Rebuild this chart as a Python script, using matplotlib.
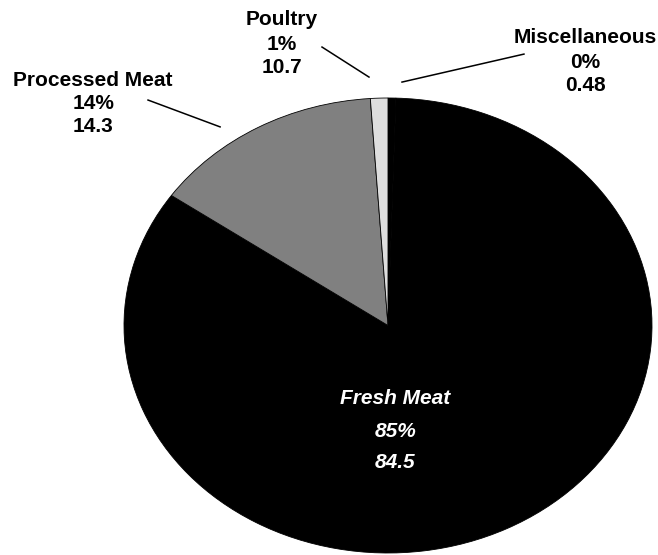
import matplotlib
matplotlib.use("Agg")
import matplotlib.pyplot as plt

plt.rcParams['font.family'] = ['Liberation Sans', 'DejaVu Sans']

# slices, clockwise from 12 o'clock
names = ["Miscellaneous", "Fresh Meat", "Processed Meat", "Poultry"]
shares = [0.48, 84.5, 14.3, 1.07]
pct_labels = ["0%", "85%", "14%", "1%"]
value_labels = ["0.48", "84.5", "14.3", "10.7"]
colors = ["#000000", "#000000", "#808080", "#dedede"]

fig = plt.figure(figsize=(6.58, 5.55), dpi=100)
ax = fig.add_axes([124 / 658, 2 / 555, 528 / 658, 455 / 555])

ax.pie(shares, colors=colors, startangle=90, counterclock=False,
       wedgeprops=dict(edgecolor="black", linewidth=0.6))
ax.set_aspect("auto")
ax.set_xlim(-1, 1)
ax.set_ylim(-1, 1)

fs = 15
# outside labels: (x centre, y of the three lines), leader line ends
outer = {
    "Processed Meat": ((-1.117, [1.079, 0.974, 0.873]), ((-0.909, 0.991), (-0.636, 0.873))),
    "Poultry": ((-0.402, [1.347, 1.237, 1.136]), ((-0.25, 1.224), (-0.072, 1.092))),
    "Miscellaneous": ((0.746, [1.268, 1.154, 1.053]), ((0.515, 1.193), (0.053, 1.07))),
}
for i, name in enumerate(names):
    if name in outer:
        (tx, tys), (p0, p1) = outer[name]
        for txt, ty in zip([name, pct_labels[i], value_labels[i]], tys):
            ax.text(tx, ty, txt, ha="center", va="center", fontsize=fs,
                    fontweight="bold", clip_on=False)
        ax.plot([p0[0], p1[0]], [p0[1], p1[1]], color="black", lw=1.1,
                clip_on=False)

# inside label for fresh meat
i = names.index("Fresh Meat")
for txt, ty in zip([names[i], pct_labels[i], value_labels[i]], [-0.323, -0.468, -0.604]):
    ax.text(0.027, ty, txt, ha="center", va="center", fontsize=fs,
            fontweight="bold", fontstyle="italic", color="white")

fig.savefig("out.png", dpi=100)
